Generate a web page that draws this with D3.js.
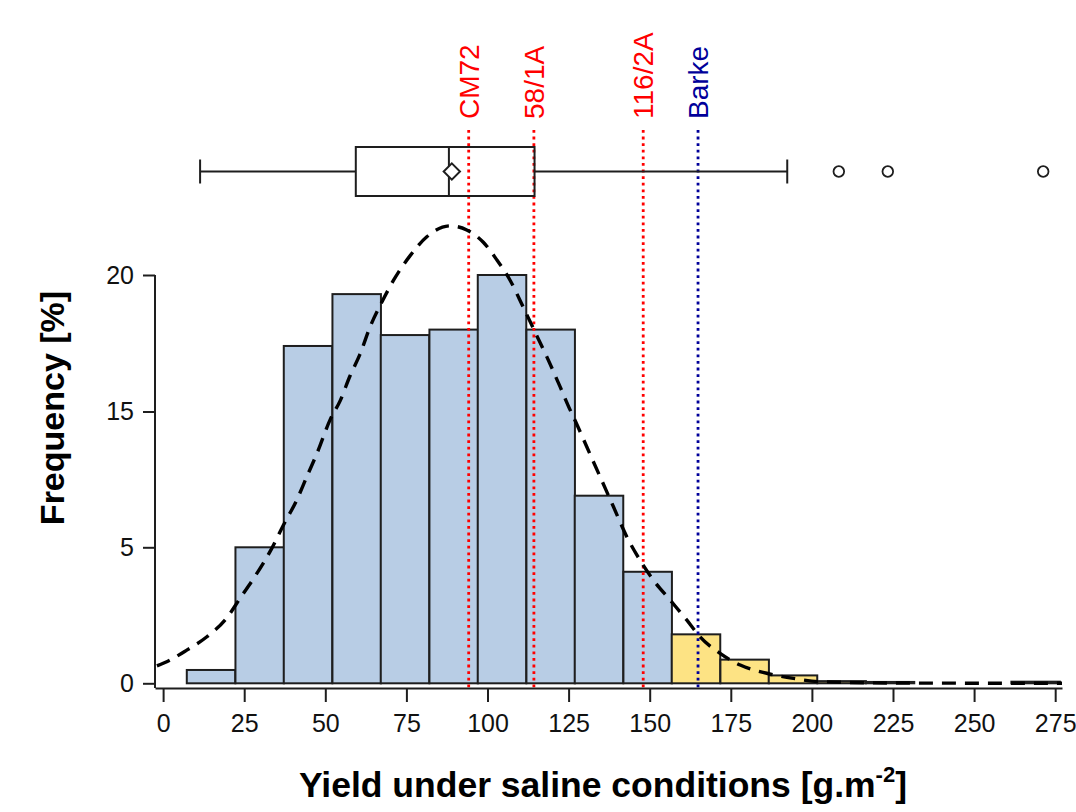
<!DOCTYPE html>
<html>
<head>
<meta charset="utf-8">
<script src="https://cdn.jsdelivr.net/npm/d3@7"></script>
<style>
  body { margin: 0; background: #fff; }
  text { font-family: "Liberation Sans", Arial, sans-serif; }
</style>
</head>
<body>
<div id="chart"></div>
<script>
// histogram: left edge of each bin [g.m-2] and frequency [%] as read on the axis
var binStart = [7.3, 22.3, 37.2, 52.2, 67.1, 82.1, 97.0, 112.0, 126.9, 141.9, 156.8, 171.8, 186.7, 201.7, 216.6, 231.6, 246.5, 261.5];
var binWidth = 14.95;
var binFreq = [0.49, 5.0, 17.4, 19.3, 17.8, 18.0, 20.0, 18.0, 8.8, 4.1, 1.8, 0.87, 0.29, 0.08, 0.05, 0, 0, 0.06];
var highlightFrom = 156.8;   // bins from here on are the yellow ones

// fitted normal curve
var curveX = [-1.9, 2.2, 7.3, 13.5, 19.6, 23.7, 28.9, 33.5, 37.1, 41.2, 44.3, 47.4, 51.5, 54.6, 57.6, 60.7, 63.8, 67.4, 71.0, 76.1, 81.3, 88.5, 93.6, 98.7, 102.9, 107.0, 111.1, 114.7, 118.3, 122.4, 125.5, 126.5, 130.6, 134.7, 138.8, 142.9, 147.0, 151.1, 156.3, 161.4, 165.5, 171.7, 177.9, 186.1, 194.3, 202.5, 227.2, 277.1];
var curveY = [0.64, 0.86, 1.22, 1.71, 2.4, 3.12, 4.04, 4.96, 6.64, 8.48, 10.2, 11.9, 14.4, 15.4, 16.3, 17.1, 18.1, 19.0, 19.8, 20.7, 21.4, 21.8, 21.65, 21.2, 20.55, 19.8, 18.8, 17.9, 17.0, 15.9, 15.05, 14.6, 12.4, 10.2, 8.0, 5.8, 4.53, 3.8, 3.06, 2.33, 1.71, 1.1, 0.67, 0.37, 0.18, 0.06, 0.01, 0];

// box plot summary
var whiskers = [11.4, 192.4];
var quartiles = [59.4, 88.1, 114.5];
var meanYield = 89.0;
var outliers = [208.3, 223.4, 271.3];

// reference genotypes
var refNames = ["CM72", "58/1A", "116/2A", "Barke"];
var refYield = [94.2, 114.3, 148.0, 164.9];
var refGroup = ["line", "line", "line", "parent"];

// axis ticks
var xTicks = [0, 25, 50, 75, 100, 125, 150, 175, 200, 225, 250, 275];
var yTicks = [0, 5, 15, 20];

var width = 1076, height = 812;
var plot = { left: 155, right: 1062, top: 275, bottom: 688 };
var ink = "#1e1e1e";

var svg = d3.select("#chart")
    .append("svg")
    .attr("width", width)
    .attr("height", height);

var x = d3.scaleLinear()
    .domain([-2.5, 277.1])
    .range([plot.left, plot.right]);

// the axis has equally spaced ticks 0, 5, 15, 20
var y = d3.scaleLinear()
    .domain(yTicks)
    .range([683.3, 547.3, 411.5, plot.top]);

var refColor = d3.scaleOrdinal()
    .domain(["line", "parent"])
    .range(["#ff0000", "#00009a"]);

// histogram bars
var bins = binStart.map(function (s, i) { return { x0: s, x1: s + binWidth, f: binFreq[i] }; })
    .filter(function (d) { return d.f > 0; });

svg.append("g")
    .selectAll("rect")
    .data(bins)
    .enter()
    .append("rect")
    .attr("x", function (d) { return x(d.x0); })
    .attr("width", function (d) { return x(d.x1) - x(d.x0); })
    .attr("y", function (d) { return y(d.f); })
    .attr("height", function (d) { return y(0) - y(d.f); })
    .attr("fill", function (d) { return d.x0 >= highlightFrom ? "#fde384" : "#b8cde5"; })
    .attr("stroke", ink)
    .attr("stroke-width", 2);

// reference lines + labels
var refs = refNames.map(function (n, i) { return { name: n, v: refYield[i], g: refGroup[i] }; });

svg.append("g")
    .selectAll("line")
    .data(refs)
    .enter()
    .append("line")
    .attr("x1", function (d) { return x(d.v); })
    .attr("x2", function (d) { return x(d.v); })
    .attr("y1", 130)
    .attr("y2", plot.bottom)
    .attr("stroke", function (d) { return refColor(d.g); })
    .attr("stroke-width", 2.8)
    .attr("stroke-dasharray", "2.8,3.8");

svg.append("g")
    .selectAll("text")
    .data(refs)
    .enter()
    .append("text")
    .attr("transform", function (d) { return "translate(" + (x(d.v) + 10) + ",119) rotate(-90)"; })
    .attr("fill", function (d) { return refColor(d.g); })
    .style("font-size", "28px")
    .text(function (d) { return d.name; });

// normal curve
var line = d3.line()
    .x(function (d, i) { return x(curveX[i]); })
    .y(function (d) { return y(d); })
    .curve(d3.curveMonotoneX);

svg.append("path")
    .attr("d", line(curveY))
    .attr("fill", "none")
    .attr("stroke", "#000")
    .attr("stroke-width", 3.4)
    .attr("stroke-dasharray", "14,9");

// box plot on top
var by = 171.5, bh = 24.5, cap = 12;
var box = svg.append("g").attr("stroke", ink).attr("stroke-width", 2).attr("fill", "none");
box.append("line").attr("x1", x(whiskers[0])).attr("x2", x(quartiles[0])).attr("y1", by).attr("y2", by);
box.append("line").attr("x1", x(quartiles[2])).attr("x2", x(whiskers[1])).attr("y1", by).attr("y2", by);
box.selectAll(".cap")
    .data(whiskers)
    .enter()
    .append("line")
    .attr("x1", function (d) { return x(d); })
    .attr("x2", function (d) { return x(d); })
    .attr("y1", by - cap)
    .attr("y2", by + cap);
box.append("rect")
    .attr("x", x(quartiles[0]))
    .attr("width", x(quartiles[2]) - x(quartiles[0]))
    .attr("y", by - bh)
    .attr("height", 2 * bh);
box.append("line").attr("x1", x(quartiles[1])).attr("x2", x(quartiles[1])).attr("y1", by - bh).attr("y2", by + bh);
box.append("path")
    .attr("d", d3.symbol().type(d3.symbolDiamond2).size(170)())
    .attr("transform", "translate(" + x(meanYield) + "," + by + ")")
    .attr("fill", "#fff");
box.selectAll(".out")
    .data(outliers)
    .enter()
    .append("circle")
    .attr("cx", function (d) { return x(d); })
    .attr("cy", by)
    .attr("r", 5.3)
    .attr("stroke-width", 1.8);

// axes
var yAxis = svg.append("g")
    .attr("transform", "translate(" + plot.left + ",0)")
    .call(d3.axisLeft(y).tickValues(yTicks).tickSize(12).tickPadding(9).tickSizeOuter(0));
yAxis.select(".domain").attr("d", "M0," + plot.top + "V" + plot.bottom);

var xAxis = svg.append("g")
    .attr("transform", "translate(0," + plot.bottom + ")")
    .call(d3.axisBottom(x).tickValues(xTicks).tickSize(14).tickPadding(12).tickSizeOuter(0));

[xAxis, yAxis].forEach(function (a) {
    a.attr("font-size", null).attr("font-family", null);
    a.selectAll("text").style("font-size", "25px").attr("fill", "#111");
    a.selectAll("line, path").attr("stroke", ink).attr("stroke-width", 2);
});

// axis titles
svg.append("text")
    .attr("transform", "translate(64,408) rotate(-90)")
    .attr("text-anchor", "middle")
    .style("font-size", "34px")
    .style("font-weight", "bold")
    .text("Frequency [%]");

var xt = svg.append("text")
    .attr("x", 603)
    .attr("y", 797)
    .attr("text-anchor", "middle")
    .style("font-size", "35.5px")
    .style("font-weight", "bold");
xt.append("tspan").text("Yield under saline conditions [g.m");
xt.append("tspan").attr("dy", -15).style("font-size", "22px").text("-2");
xt.append("tspan").attr("dy", 15).text("]");
</script>
</body>
</html>
